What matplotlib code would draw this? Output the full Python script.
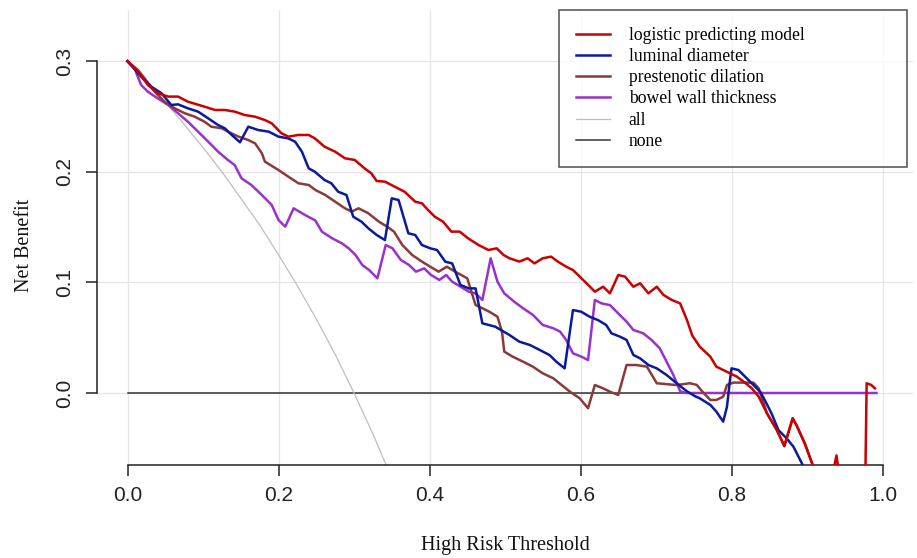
import numpy as np
import matplotlib
matplotlib.use("Agg")
from matplotlib import pyplot as plt
from matplotlib import font_manager as fm

# *** data ***
x_model = [0.0, 0.014, 0.027, 0.040, 0.054, 0.067, 0.080, 0.102, 0.116, 0.129, 0.142, 0.155, 0.169, 0.182,
           0.191, 0.204, 0.213, 0.226, 0.240, 0.248, 0.261, 0.275, 0.288, 0.301, 0.314, 0.323, 0.330, 0.341,
           0.354, 0.367, 0.381, 0.390, 0.398, 0.407, 0.418, 0.429, 0.440, 0.451, 0.465, 0.478, 0.489, 0.498,
           0.506, 0.519, 0.530, 0.539, 0.550, 0.561, 0.570, 0.581, 0.590, 0.599, 0.608, 0.619, 0.630, 0.639,
           0.650, 0.659, 0.670, 0.679, 0.690, 0.701, 0.710, 0.721, 0.732, 0.741, 0.748, 0.758, 0.772, 0.780,
           0.789, 0.798, 0.807, 0.816, 0.827, 0.836, 0.847, 0.860, 0.870, 0.881, 0.886, 0.897, 0.908, 0.920,
           0.935, 0.939, 0.943, 0.960, 0.977, 0.979, 0.985, 0.990]
y_model = [0.300, 0.2905, 0.2785, 0.271, 0.268, 0.268, 0.2634, 0.2589, 0.2559, 0.2559, 0.2544, 0.2514, 0.2498,
           0.2468, 0.2438, 0.2348, 0.2318, 0.2333, 0.2333, 0.2303, 0.2227, 0.2182, 0.2122, 0.2107, 0.2031,
           0.1986, 0.1917, 0.1911, 0.1865, 0.182, 0.173, 0.1715, 0.1655, 0.1594, 0.1549, 0.1459, 0.1459,
           0.1399, 0.1338, 0.1293, 0.1308, 0.1248, 0.1218, 0.1188, 0.1218, 0.1172, 0.1218, 0.1233, 0.1188,
           0.1142, 0.1112, 0.1052, 0.0992, 0.0916, 0.0961, 0.0901, 0.1067, 0.1052, 0.0961, 0.0992, 0.0901,
           0.0961, 0.0886, 0.0841, 0.081, 0.066, 0.052, 0.0419, 0.0328, 0.0238, 0.0208, 0.0178, 0.0148,
           0.0103, 0.0042, -0.0033, -0.0184, -0.0334, -0.048, -0.0229, -0.029, -0.0455, -0.066, -0.08,
           -0.07, -0.0565, -0.075, -0.09, -0.09, 0.0088, 0.0073, 0.0042]

x_lumen = [0.0, 0.018, 0.0315, 0.045, 0.058, 0.067, 0.080, 0.0935, 0.107, 0.120, 0.129, 0.138, 0.149, 0.160,
           0.173, 0.187, 0.200, 0.213, 0.222, 0.231, 0.240, 0.248, 0.261, 0.270, 0.279, 0.290, 0.299, 0.310,
           0.319, 0.330, 0.341, 0.350, 0.359, 0.372, 0.381, 0.390, 0.401, 0.410, 0.421, 0.430, 0.441, 0.452,
           0.461, 0.470, 0.487, 0.506, 0.519, 0.533, 0.546, 0.559, 0.568, 0.579, 0.590, 0.601, 0.612, 0.623,
           0.634, 0.641, 0.652, 0.661, 0.670, 0.679, 0.690, 0.701, 0.714, 0.727, 0.741, 0.752, 0.758, 0.772,
           0.780, 0.789, 0.794, 0.798, 0.800, 0.809, 0.818, 0.829, 0.838, 0.844, 0.853, 0.862, 0.873, 0.882,
           0.895, 0.910]
y_lumen = [0.300, 0.286, 0.277, 0.271, 0.2604, 0.261, 0.2574, 0.2544, 0.2483, 0.2423, 0.2393, 0.2333, 0.2267,
           0.2408, 0.2378, 0.2363, 0.2318, 0.2302, 0.2272, 0.2182, 0.2031, 0.2001, 0.1926, 0.1896, 0.182,
           0.179, 0.1594, 0.1549, 0.1489, 0.1429, 0.1383, 0.176, 0.1745, 0.1444, 0.1429, 0.1338, 0.1308,
           0.1293, 0.1187, 0.1172, 0.0977, 0.0946, 0.0946, 0.063, 0.060, 0.0524, 0.0464, 0.0434, 0.0389,
           0.0343, 0.0283, 0.0223, 0.075, 0.0735, 0.069, 0.066, 0.0615, 0.054, 0.051, 0.048, 0.0344, 0.0313,
           0.0253, 0.0223, 0.0163, 0.009, 0.0015, -0.003, -0.0048, -0.0108, -0.0169, -0.0259, -0.0124,
           0.0118, 0.0223, 0.0208, 0.0148, 0.0073, 0.0012, -0.0063, -0.0184, -0.0334, -0.041, -0.0485,
           -0.066, -0.085]

x_dilation = [0.0, 0.014, 0.0226, 0.036, 0.049, 0.0625, 0.076, 0.089, 0.102, 0.111, 0.125, 0.133, 0.147, 0.160,
              0.169, 0.178, 0.182, 0.200, 0.213, 0.2265, 0.240, 0.249, 0.262, 0.275, 0.288, 0.297, 0.306,
              0.319, 0.333, 0.344, 0.353, 0.364, 0.377, 0.390, 0.401, 0.412, 0.423, 0.434, 0.450, 0.461,
              0.470, 0.479, 0.490, 0.496, 0.499, 0.510, 0.524, 0.537, 0.550, 0.564, 0.575, 0.586, 0.599,
              0.610, 0.619, 0.630, 0.639, 0.650, 0.661, 0.674, 0.688, 0.701, 0.714, 0.727, 0.745, 0.754,
              0.763, 0.772, 0.780, 0.789, 0.794, 0.8025, 0.829, 0.836, 0.847, 0.860, 0.870, 0.881, 0.886,
              0.897, 0.908, 0.920]
y_dilation = [0.300, 0.292, 0.2845, 0.2724, 0.2634, 0.2574, 0.2529, 0.2498, 0.2453, 0.2408, 0.2393, 0.2363,
              0.2318, 0.2287, 0.2257, 0.2167, 0.2092, 0.2016, 0.1956, 0.1896, 0.1881, 0.1835, 0.179, 0.173,
              0.167, 0.164, 0.167, 0.1625, 0.1549, 0.1504, 0.1459, 0.1338, 0.1248, 0.1188, 0.1142, 0.1097,
              0.1142, 0.1097, 0.1037, 0.0796, 0.0766, 0.0736, 0.069, 0.0554, 0.0374, 0.0329, 0.0283, 0.0238,
              0.0178, 0.0133, 0.0072, 0.0012, -0.0048, -0.0138, 0.0072, 0.0042, 0.0012, -0.0018, 0.0253,
              0.0253, 0.0238, 0.0088, 0.008, 0.0072, 0.0088, 0.0073, 0.0, -0.0063, -0.0063, -0.0033, 0.0073,
              0.0094, 0.0094, 0.0042, -0.0184, -0.0334, -0.048, -0.0229, -0.029, -0.0455, -0.066, -0.08]

x_wall = [0.0, 0.0093, 0.018, 0.027, 0.040, 0.054, 0.067, 0.080, 0.0935, 0.107, 0.120, 0.133, 0.142, 0.151,
          0.164, 0.178, 0.191, 0.200, 0.209, 0.220, 0.235, 0.2487, 0.2575, 0.271, 0.284, 0.293, 0.302, 0.311,
          0.320, 0.331, 0.342, 0.351, 0.362, 0.373, 0.382, 0.393, 0.402, 0.413, 0.422, 0.430, 0.441, 0.452,
          0.461, 0.470, 0.481, 0.490, 0.499, 0.512, 0.524, 0.537, 0.550, 0.564, 0.573, 0.581, 0.590, 0.601,
          0.610, 0.619, 0.628, 0.639, 0.652, 0.661, 0.670, 0.683, 0.694, 0.705, 0.714, 0.723, 0.732, 0.740,
          0.992]
y_wall = [0.300, 0.2936, 0.2785, 0.2724, 0.2664, 0.2604, 0.2529, 0.2453, 0.2363, 0.2272, 0.2182, 0.2107,
          0.2061, 0.1941, 0.1881, 0.179, 0.170, 0.1564, 0.1504, 0.167, 0.161, 0.156, 0.1459, 0.1399, 0.1353,
          0.1308, 0.1248, 0.1157, 0.1112, 0.1037, 0.1338, 0.1308, 0.1203, 0.1157, 0.1097, 0.1127, 0.1067,
          0.1022, 0.1067, 0.1007, 0.0962, 0.0916, 0.0901, 0.0841, 0.1218, 0.1007, 0.0901, 0.0827, 0.0766,
          0.0706, 0.0615, 0.0585, 0.0555, 0.048, 0.0359, 0.0329, 0.0298, 0.0841, 0.081, 0.0795, 0.0706,
          0.0645, 0.057, 0.054, 0.048, 0.0404, 0.0283, 0.0163, 0.0015, 0.0, 0.0]

x_all = [0.0, 0.025, 0.05, 0.075, 0.10, 0.125, 0.15, 0.175, 0.20, 0.225, 0.25, 0.275, 0.30, 0.325, 0.35]
y_all = [0.300, 0.282, 0.263, 0.243, 0.222, 0.200, 0.176, 0.152, 0.125, 0.097, 0.067, 0.035, 0.0, -0.037,
         -0.077]

x_none = [0.0, 0.992]
y_none = [0.0, 0.0]

labels = ["logistic predicting model", "luminal diameter", "prestenotic dilation",
          "bowel wall thickness", "all", "none"]
colors = ["#CC0000", "#0A1A9E", "#8B3A3A", "#9932CC", "#BEBEBE", "#333333"]

x_ticks = [0.0, 0.2, 0.4, 0.6, 0.8, 1.0]
y_ticks = [0.0, 0.1, 0.2, 0.3]

# *** fonts ***
names = {f.name for f in fm.fontManager.ttflist}
tick_font = "Liberation Sans Narrow" if "Liberation Sans Narrow" in names else "Liberation Sans"
serif_font = "Liberation Serif"

W, H = 917, 558
fig = plt.figure(figsize=(W / 100, H / 100), dpi=100)
ax = fig.add_axes([97.3 / W, (H - 465) / H, 815.4 / W, 455 / H])

ax.set_xlim(-0.04, 1.04)
ax.set_ylim(-0.0651, 0.3463)

# grid first
for gx in x_ticks:
    ax.axvline(gx, color="#E6E6E6", lw=0.9, zorder=0)
for gy in y_ticks:
    ax.axhline(gy, color="#E6E6E6", lw=0.9, zorder=0)

ax.plot(x_none, y_none, color=colors[5], lw=1.1, zorder=2)
ax.plot(x_all, y_all, color=colors[4], lw=0.9, zorder=2)
ax.plot(x_wall, y_wall, color=colors[3], lw=1.8, zorder=3)
ax.plot(x_dilation, y_dilation, color=colors[2], lw=1.8, zorder=3)
ax.plot(x_lumen, y_lumen, color=colors[1], lw=1.8, zorder=4)
ax.plot(x_model, y_model, color=colors[0], lw=1.8, zorder=5)

# R style axes
for s in ["top", "right"]:
    ax.spines[s].set_visible(False)
ax.spines["left"].set_bounds(0.0, 0.3)
ax.spines["bottom"].set_bounds(0.0, 1.0)
for s in ["left", "bottom"]:
    ax.spines[s].set_color("#222222")
    ax.spines[s].set_linewidth(1.1)

ax.set_xticks(x_ticks)
ax.set_yticks(y_ticks)
ax.set_xticklabels(["%.1f" % v for v in x_ticks], fontfamily=tick_font, fontsize=15)
ax.set_yticklabels(["%.1f" % v for v in y_ticks], fontfamily=tick_font, fontsize=15,
                   rotation=90, va="center")
ax.tick_params(axis="both", direction="out", length=8, width=1.1, color="#222222", labelcolor="#222222")
ax.tick_params(axis="x", pad=7)
ax.tick_params(axis="y", pad=9)

ax.set_xlabel("High Risk Threshold", fontfamily=serif_font, fontsize=14.5, color="#111111")
ax.xaxis.set_label_coords(0.5, -0.176)
ax.xaxis.label.set_verticalalignment("center")
ax.set_ylabel("Net Benefit", fontfamily=serif_font, fontsize=14.5, color="#111111")
ax.yaxis.set_label_coords(-0.0887, 0.4835)
ax.yaxis.label.set_verticalalignment("center")

# legend box top right
handles = [plt.Line2D([], [], color=c, lw=1.8 if i < 4 else (0.9 if i == 4 else 1.1))
           for i, c in enumerate(colors)]
leg = fig.legend(handles, labels, loc="upper left",
                 bbox_to_anchor=(559 / W, 1 - 165 / H, 348 / W, 155 / H),
                 bbox_transform=fig.transFigure, mode="expand",
                 prop={"family": serif_font, "size": 12.7},
                 frameon=True, fancybox=False, borderpad=0.95, labelspacing=0.24,
                 handlelength=1.95, handletextpad=1.05, borderaxespad=0.0)
leg.get_frame().set_edgecolor("#333333")
leg.get_frame().set_linewidth(1.2)

fig.savefig("out.png", dpi=100)
